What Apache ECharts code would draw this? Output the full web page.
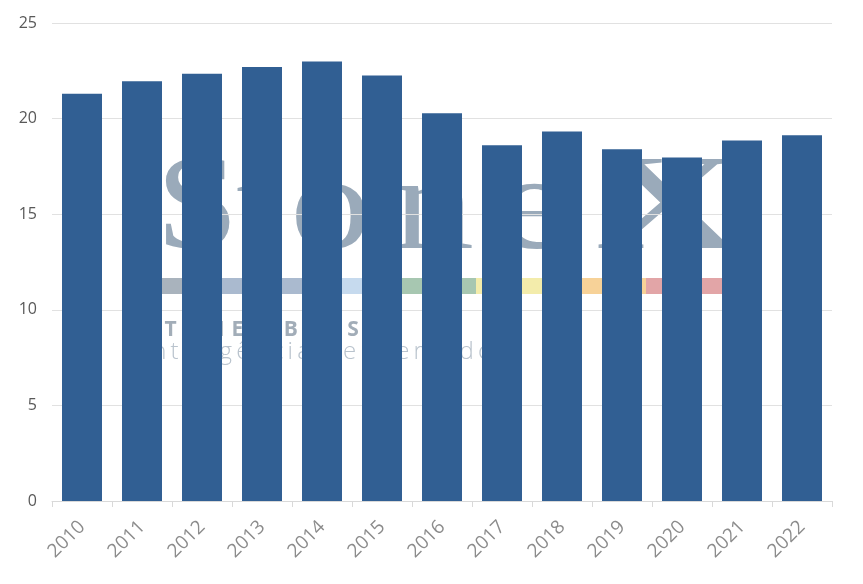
<!DOCTYPE html>
<html>
<head>
<meta charset="utf-8">
<script src="https://cdn.jsdelivr.net/npm/echarts@6/dist/echarts.min.js"></script>
<style>
html,body{margin:0;padding:0;background:#fff;}
#chart{width:863px;height:584px;}
</style>
</head>
<body>
<div id="chart"></div>
<script>
const years = ['2010','2011','2012','2013','2014','2015','2016','2017','2018','2019','2020','2021','2022'];
const values = [21.3, 21.95, 22.35, 22.7, 22.98, 22.25, 20.28, 18.6, 19.33, 18.4, 17.97, 18.86, 19.13];
const yTicks = { min: 0, max: 25, interval: 5 };

// ---- watermark (decorative, behind the bars) ----
const wmColor = '#9aaaba';
const stripe = [
  ['#a9b3bd', 158, 215], ['#aabacf', 215, 312], ['#c6daee', 312, 398],
  ['#a7c7b1', 398, 476], ['#f3ecab', 476, 560], ['#f7d298', 560, 646], ['#e2a5a7', 646, 722]
];
const bigLetters = [['S',156,1.1],['t',236,1.2],['o',290,1.2],['n',393,1.2],['e',492,1.35],['X',594,1.55]];

const measureCtx = document.createElement('canvas').getContext('2d');
function spaced(text, x0, y, font, fill, gap) {
  measureCtx.font = font;
  const els = [];
  let x = x0;
  for (const ch of text) {
    if (ch !== ' ') {
      els.push({type:'text', x:x, y:y, z:-1, silent:true, style:{text:ch, fill:fill, font:font}});
    }
    x += measureCtx.measureText(ch).width + gap;
  }
  return els;
}

const graphicEls = [];
bigLetters.forEach(([ch, x, sx]) => {
  graphicEls.push({type:'text', x:x, y:280, z:-1, silent:true, scaleX:sx,
    style:{text:ch, fill:wmColor, font:'135px "Liberation Serif", "DejaVu Serif", serif', verticalAlign:'bottom'}});
});
stripe.forEach(([c, x0, x1]) => {
  graphicEls.push({type:'rect', z:-1, silent:true, shape:{x:x0, y:278, width:x1-x0, height:16}, style:{fill:c}});
});
graphicEls.push(...spaced('STONEX BRASIL', 146, 320, 'bold 21px "Open Sans", sans-serif', '#a2adb8', 7));
graphicEls.push(...spaced('Inteligência de mercado', 142, 340, '300 24px "Open Sans", sans-serif', '#b9c3cd', 4.2));

const chart = echarts.init(document.getElementById('chart'), null, {renderer:'canvas'});
chart.setOption({
  animation: false,
  backgroundColor: '#ffffff',
  graphic: { elements: graphicEls },
  grid: { left: 52, right: 31, top: 23, bottom: 83, containLabel: false },
  xAxis: {
    type: 'category',
    data: years,
    boundaryGap: true,
    axisLine: { show: true, lineStyle: { color: '#d9d9d9', width: 1 } },
    axisTick: { show: true, length: 6, lineStyle: { color: '#d9d9d9' } },
    axisLabel: { rotate: 45, color: '#8c8c8c', fontSize: 19, margin: 23, fontFamily: '"Open Sans", sans-serif' },
    splitLine: { show: false }
  },
  yAxis: {
    type: 'value',
    min: yTicks.min, max: yTicks.max, interval: yTicks.interval,
    axisLine: { show: false },
    axisTick: { show: false },
    axisLabel: { color: '#595959', fontSize: 16, margin: 15, fontFamily: '"Open Sans", sans-serif' },
    splitLine: { show: true, lineStyle: { color: '#e1e1e1', width: 1 } }
  },
  series: [{
    type: 'bar',
    data: values,
    barWidth: 40,
    itemStyle: { color: '#315f93' }
  }]
});
</script>
</body>
</html>
